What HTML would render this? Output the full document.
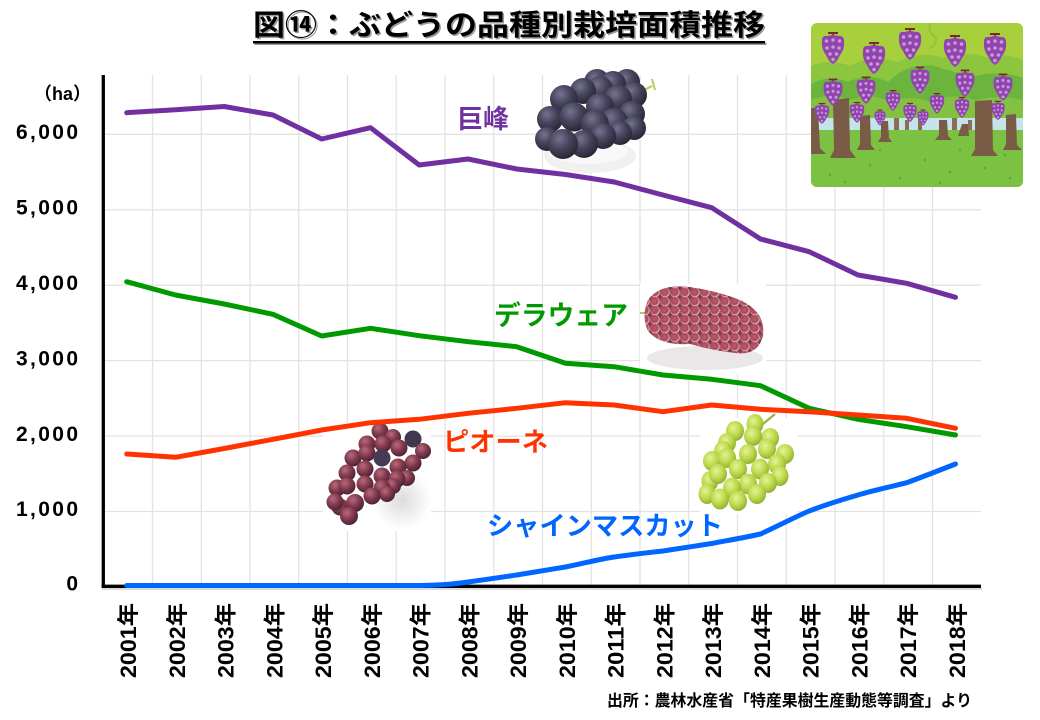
<!DOCTYPE html>
<html><head><meta charset="utf-8">
<style>
html,body{margin:0;padding:0;background:#fff;}
svg{display:block;}
text{font-family:"Liberation Sans","Noto Sans CJK JP",sans-serif;}
</style></head><body>
<svg width="1040" height="720" viewBox="0 0 1040 720" xmlns="http://www.w3.org/2000/svg">
<defs>
  <radialGradient id="gk" cx="0.38" cy="0.32" r="0.7">
    <stop offset="0" stop-color="#767290"/><stop offset="0.5" stop-color="#46445c"/><stop offset="1" stop-color="#282634"/>
  </radialGradient>
  <radialGradient id="gp" cx="0.38" cy="0.32" r="0.7">
    <stop offset="0" stop-color="#b86a7c"/><stop offset="0.55" stop-color="#80384c"/><stop offset="1" stop-color="#4a2236"/>
  </radialGradient>
  <radialGradient id="gs" cx="0.4" cy="0.35" r="0.7">
    <stop offset="0" stop-color="#e6f294"/><stop offset="0.55" stop-color="#bcd84c"/><stop offset="1" stop-color="#8cab2c"/>
  </radialGradient>
  <radialGradient id="gd" cx="0.45" cy="0.45" r="0.6">
    <stop offset="0" stop-color="#c05a6c"/><stop offset="0.6" stop-color="#a8485a"/><stop offset="0.85" stop-color="#e2b6c0"/><stop offset="1" stop-color="#d8a4b0"/>
  </radialGradient>
  <radialGradient id="gsh" cx="0.5" cy="0.5" r="0.5">
    <stop offset="0" stop-color="#dcdcde"/><stop offset="1" stop-color="#ffffff"/>
  </radialGradient>
  <pattern id="pd" x="0" y="0" width="10" height="9" patternUnits="userSpaceOnUse">
    <rect width="10" height="9" fill="#8a3a4c"/>
    <circle cx="5" cy="4.5" r="4.8" fill="url(#gd)"/>
  </pattern>
  <g id="vg">
    <rect x="-5" y="-17" width="10" height="2" fill="#7a2a2a"/>
    <rect x="-0.8" y="-16" width="1.6" height="4" fill="#7a2a2a"/>
    <path d="M-11,-9 Q-11,-14 -5,-13 Q0,-15 5,-13 Q11,-14 11,-8 Q12,0 7,6 Q4,13 0,15 Q-4,13 -7,6 Q-12,0 -11,-9Z" fill="#8f45ad"/>
    <circle cx="-6.5" cy="-8" r="1.8" fill="#c899d8"/><circle cx="0" cy="-9" r="1.8" fill="#c899d8"/><circle cx="6.5" cy="-8" r="1.8" fill="#c899d8"/>
    <circle cx="-6" cy="-1" r="1.8" fill="#c899d8"/><circle cx="0" cy="-2" r="1.8" fill="#c899d8"/><circle cx="6" cy="-1" r="1.8" fill="#c899d8"/>
    <circle cx="-3" cy="5" r="1.8" fill="#c899d8"/><circle cx="3.5" cy="5" r="1.8" fill="#c899d8"/>
    <circle cx="0" cy="10.5" r="1.8" fill="#c899d8"/>
  </g>
  <clipPath id="vc"><rect x="811" y="23" width="212" height="164" rx="6"/></clipPath>
</defs>

<!-- Title -->
<text x="254.5" y="36.5" font-size="29" font-weight="bold" fill="#9a9a9a" textLength="512" lengthAdjust="spacingAndGlyphs">図⑭：ぶどうの品種別栽培面積推移</text>
<text x="253" y="35" font-size="29" font-weight="bold" fill="#000" textLength="512" lengthAdjust="spacingAndGlyphs">図⑭：ぶどうの品種別栽培面積推移</text>
<rect x="254.5" y="42.5" width="512" height="2.5" fill="#9a9a9a"/>
<rect x="253" y="41" width="512" height="2.5" fill="#000"/>

<!-- gridlines -->
<g stroke="#e3e3e3" stroke-width="1.3">
  <line x1="152.5" y1="75" x2="152.5" y2="585"/><line x1="201.25" y1="75" x2="201.25" y2="585"/>
  <line x1="250" y1="75" x2="250" y2="585"/><line x1="298.75" y1="75" x2="298.75" y2="585"/>
  <line x1="347.5" y1="75" x2="347.5" y2="585"/><line x1="396.25" y1="75" x2="396.25" y2="585"/>
  <line x1="445" y1="75" x2="445" y2="585"/><line x1="493.75" y1="75" x2="493.75" y2="585"/>
  <line x1="542.5" y1="75" x2="542.5" y2="585"/><line x1="591.25" y1="75" x2="591.25" y2="585"/>
  <line x1="640" y1="75" x2="640" y2="585"/><line x1="688.75" y1="75" x2="688.75" y2="585"/>
  <line x1="737.5" y1="75" x2="737.5" y2="585"/><line x1="786.25" y1="75" x2="786.25" y2="585"/>
  <line x1="835" y1="75" x2="835" y2="585"/><line x1="883.75" y1="75" x2="883.75" y2="585"/>
  <line x1="932.5" y1="75" x2="932.5" y2="585"/>
  <line x1="103" y1="134.3" x2="981" y2="134.3"/><line x1="103" y1="209.8" x2="981" y2="209.8"/>
  <line x1="103" y1="285.2" x2="981" y2="285.2"/><line x1="103" y1="360.6" x2="981" y2="360.6"/>
  <line x1="103" y1="436.1" x2="981" y2="436.1"/><line x1="103" y1="511.5" x2="981" y2="511.5"/>
</g>

<!-- axes -->
<line x1="102" y1="589" x2="982" y2="589" stroke="#cfcfcf" stroke-width="1.5"/>
<line x1="103.3" y1="75" x2="103.3" y2="587.8" stroke="#000" stroke-width="3.3"/>
<line x1="101.7" y1="586.3" x2="981" y2="586.3" stroke="#000" stroke-width="3.3"/>

<!-- Y labels -->
<g font-size="21" font-weight="bold" fill="#000" text-anchor="end">
  <text x="78" y="139" textLength="62">6,000</text>
  <text x="78" y="214.5" textLength="62">5,000</text>
  <text x="78" y="290" textLength="62">4,000</text>
  <text x="78" y="365.3" textLength="62">3,000</text>
  <text x="78" y="440.8" textLength="62">2,000</text>
  <text x="78" y="516.2" textLength="62">1,000</text>
  <text x="78" y="590.5">0</text>
</g>
<text x="34" y="100" font-size="18" font-weight="bold" fill="#000">（ha）</text>

<!-- X labels -->
<g font-size="22" font-weight="bold" fill="#000" text-anchor="end">
  <text transform="translate(136.2,603) rotate(-90)" textLength="75" lengthAdjust="spacingAndGlyphs">2001年</text>
  <text transform="translate(185,603) rotate(-90)" textLength="75" lengthAdjust="spacingAndGlyphs">2002年</text>
  <text transform="translate(233.7,603) rotate(-90)" textLength="75" lengthAdjust="spacingAndGlyphs">2003年</text>
  <text transform="translate(282.5,603) rotate(-90)" textLength="75" lengthAdjust="spacingAndGlyphs">2004年</text>
  <text transform="translate(331.2,603) rotate(-90)" textLength="75" lengthAdjust="spacingAndGlyphs">2005年</text>
  <text transform="translate(380,603) rotate(-90)" textLength="75" lengthAdjust="spacingAndGlyphs">2006年</text>
  <text transform="translate(428.7,603) rotate(-90)" textLength="75" lengthAdjust="spacingAndGlyphs">2007年</text>
  <text transform="translate(477.5,603) rotate(-90)" textLength="75" lengthAdjust="spacingAndGlyphs">2008年</text>
  <text transform="translate(526.2,603) rotate(-90)" textLength="75" lengthAdjust="spacingAndGlyphs">2009年</text>
  <text transform="translate(575,603) rotate(-90)" textLength="75" lengthAdjust="spacingAndGlyphs">2010年</text>
  <text transform="translate(623.7,603) rotate(-90)" textLength="75" lengthAdjust="spacingAndGlyphs">2011年</text>
  <text transform="translate(672.5,603) rotate(-90)" textLength="75" lengthAdjust="spacingAndGlyphs">2012年</text>
  <text transform="translate(721.2,603) rotate(-90)" textLength="75" lengthAdjust="spacingAndGlyphs">2013年</text>
  <text transform="translate(770,603) rotate(-90)" textLength="75" lengthAdjust="spacingAndGlyphs">2014年</text>
  <text transform="translate(818.7,603) rotate(-90)" textLength="75" lengthAdjust="spacingAndGlyphs">2015年</text>
  <text transform="translate(867.5,603) rotate(-90)" textLength="75" lengthAdjust="spacingAndGlyphs">2016年</text>
  <text transform="translate(916.2,603) rotate(-90)" textLength="75" lengthAdjust="spacingAndGlyphs">2017年</text>
  <text transform="translate(965,603) rotate(-90)" textLength="75" lengthAdjust="spacingAndGlyphs">2018年</text>
</g>

<!-- Source -->
<text x="607" y="706" font-size="16" font-weight="bold" fill="#000" textLength="365" lengthAdjust="spacingAndGlyphs">出所：農林水産省「特産果樹生産動態等調査」より</text>

<!-- Kyoho image -->
<g>
  <ellipse cx="590" cy="156" rx="46" ry="17" fill="#f0f0f0"/>
  <ellipse cx="588" cy="152" rx="40" ry="12" fill="#f8f8f8"/>
  <path d="M638,93 L652,86" stroke="#b8cc58" stroke-width="2.2" fill="none"/>
  <path d="M652,79 L655,90" stroke="#b8cc58" stroke-width="2" fill="none"/>
  <circle cx="597" cy="82" r="13" fill="url(#gk)"/>
  <circle cx="627" cy="82" r="13" fill="url(#gk)"/>
  <circle cx="613" cy="84" r="13" fill="url(#gk)"/>
  <circle cx="600" cy="89" r="13" fill="url(#gk)"/>
  <circle cx="583" cy="91" r="13" fill="url(#gk)"/>
  <circle cx="634" cy="95" r="13" fill="url(#gk)"/>
  <circle cx="618" cy="99" r="14" fill="url(#gk)"/>
  <circle cx="564" cy="99" r="14" fill="url(#gk)"/>
  <circle cx="600" cy="107" r="14" fill="url(#gk)"/>
  <circle cx="632" cy="114" r="13" fill="url(#gk)"/>
  <circle cx="550" cy="119" r="13" fill="url(#gk)"/>
  <circle cx="574" cy="117" r="14.5" fill="url(#gk)"/>
  <circle cx="614" cy="122" r="14" fill="url(#gk)"/>
  <circle cx="595" cy="124" r="14" fill="url(#gk)"/>
  <circle cx="634" cy="128" r="12" fill="url(#gk)"/>
  <circle cx="620" cy="133" r="12" fill="url(#gk)"/>
  <circle cx="603" cy="136" r="13" fill="url(#gk)"/>
  <circle cx="547" cy="139" r="12" fill="url(#gk)"/>
  <circle cx="584" cy="144" r="14" fill="url(#gk)"/>
  <circle cx="563" cy="144" r="15" fill="url(#gk)"/>
</g>

<!-- Delaware image -->
<g>
  <rect x="640" y="284" width="126" height="90" fill="#fff"/>
  <ellipse cx="705" cy="358" rx="58" ry="12" fill="#ebe6e8"/>
  <path d="M640,313 L649,313" stroke="#b8c858" stroke-width="2"/>
  <path d="M648,300 Q660,283 690,287 Q722,292 742,301 Q766,313 763,336 Q758,356 735,353 Q710,350 690,344 Q660,346 648,331 Q641,316 648,300 Z" fill="url(#pd)"/>
</g>

<!-- Pione image -->
<g>
  <rect x="323" y="423" width="108" height="108" fill="#fff"/>
  <ellipse cx="402" cy="500" rx="30" ry="30" fill="url(#gsh)"/>
  <circle cx="380" cy="431" r="8.5" fill="url(#gp)"/>
  <circle cx="413" cy="439" r="8.5" fill="#3e3850"/>
  <circle cx="393" cy="437" r="8" fill="url(#gp)"/>
  <circle cx="423" cy="451" r="8" fill="url(#gp)"/>
  <circle cx="367" cy="444" r="8.5" fill="url(#gp)"/>
  <circle cx="383" cy="444" r="8.5" fill="url(#gp)"/>
  <circle cx="399" cy="448" r="8.5" fill="url(#gp)"/>
  <circle cx="353" cy="458" r="8.5" fill="url(#gp)"/>
  <circle cx="367" cy="453" r="8.5" fill="url(#gp)"/>
  <circle cx="413" cy="463" r="8.5" fill="url(#gp)"/>
  <circle cx="382" cy="458" r="8.5" fill="#463a55"/>
  <circle cx="398" cy="467" r="8.5" fill="url(#gp)"/>
  <circle cx="347" cy="473" r="8.5" fill="url(#gp)"/>
  <circle cx="407" cy="478" r="8" fill="url(#gp)"/>
  <circle cx="365" cy="469" r="8.5" fill="url(#gp)"/>
  <circle cx="382" cy="476" r="8.5" fill="url(#gp)"/>
  <circle cx="397" cy="479" r="8.5" fill="url(#gp)"/>
  <circle cx="337" cy="488" r="8.5" fill="url(#gp)"/>
  <circle cx="347" cy="486" r="8.5" fill="url(#gp)"/>
  <circle cx="365" cy="484" r="8.5" fill="url(#gp)"/>
  <circle cx="393" cy="486" r="8" fill="url(#gp)"/>
  <circle cx="382" cy="488" r="8.5" fill="url(#gp)"/>
  <circle cx="387" cy="494" r="8" fill="url(#gp)"/>
  <circle cx="372" cy="496" r="8.5" fill="url(#gp)"/>
  <circle cx="340" cy="507" r="8.5" fill="url(#gp)"/>
  <circle cx="335" cy="502" r="8.5" fill="url(#gp)"/>
  <circle cx="355" cy="503" r="9" fill="url(#gp)"/>
  <circle cx="349" cy="516" r="9" fill="url(#gp)"/>
</g>

<!-- Shine Muscat image -->
<g>
  <rect x="700" y="418" width="97" height="96" fill="#fff"/>
  <path d="M763,424 L775,414" stroke="#9ab040" stroke-width="2.2"/>
  <ellipse cx="755" cy="424" rx="8.5" ry="10" fill="url(#gs)"/>
  <ellipse cx="735" cy="431" rx="9" ry="10" fill="url(#gs)"/>
  <ellipse cx="770" cy="438" rx="9" ry="10" fill="url(#gs)"/>
  <ellipse cx="753" cy="436" rx="9" ry="10" fill="url(#gs)"/>
  <ellipse cx="727" cy="443" rx="9" ry="10" fill="url(#gs)"/>
  <ellipse cx="785" cy="454" rx="9" ry="10" fill="url(#gs)"/>
  <ellipse cx="723" cy="451" rx="9" ry="10" fill="url(#gs)"/>
  <ellipse cx="767" cy="449" rx="9" ry="10" fill="url(#gs)"/>
  <ellipse cx="748" cy="454" rx="9" ry="10" fill="url(#gs)"/>
  <ellipse cx="712" cy="461" rx="9" ry="10" fill="url(#gs)"/>
  <ellipse cx="727" cy="458" rx="9" ry="10" fill="url(#gs)"/>
  <ellipse cx="777" cy="464" rx="9" ry="10" fill="url(#gs)"/>
  <ellipse cx="760" cy="469" rx="9" ry="10.5" fill="url(#gs)"/>
  <ellipse cx="738" cy="469" rx="9" ry="10" fill="url(#gs)"/>
  <ellipse cx="710" cy="481" rx="8.5" ry="10" fill="url(#gs)"/>
  <ellipse cx="718" cy="474" rx="9" ry="10" fill="url(#gs)"/>
  <ellipse cx="780" cy="476" rx="8.5" ry="10" fill="url(#gs)"/>
  <ellipse cx="768" cy="483" rx="9" ry="10" fill="url(#gs)"/>
  <ellipse cx="748" cy="484" rx="9" ry="10.5" fill="url(#gs)"/>
  <ellipse cx="732" cy="488" rx="9" ry="10.5" fill="url(#gs)"/>
  <ellipse cx="757" cy="494" rx="9" ry="10" fill="url(#gs)"/>
  <ellipse cx="707" cy="494" rx="8.5" ry="10" fill="url(#gs)"/>
  <ellipse cx="738" cy="501" rx="9" ry="10" fill="url(#gs)"/>
  <ellipse cx="720" cy="499" rx="9" ry="10.5" fill="url(#gs)"/>
</g>

<!-- Vineyard illustration -->
<g clip-path="url(#vc)">
  <rect x="811" y="23" width="212" height="164" fill="#a8d03c"/>
  <path d="M811,66 Q830,58 850,66 Q872,54 898,62 Q920,50 942,58 Q966,50 988,58 Q1006,52 1023,60 V130 H811Z" fill="#8cc53e"/>
  <path d="M811,84 Q828,74 848,82 Q868,72 888,82 Q908,62 935,66 Q958,74 975,76 Q1000,70 1023,78 V130 H811Z" fill="#6bb53f"/>
  <path d="M811,100 Q830,92 850,100 Q870,92 890,102 Q910,94 930,102 Q952,92 975,100 Q1000,94 1023,100 V130 H811Z" fill="#82c240"/>
  <rect x="811" y="118" width="212" height="15" fill="#c4e4ea"/>
  <g fill="#8c6e55">
    <rect x="894" y="118" width="5" height="14"/><rect x="905" y="120" width="4" height="12"/>
    <rect x="918" y="119" width="4" height="13"/><rect x="952" y="118" width="5" height="14"/>
    <rect x="968" y="120" width="4" height="12"/><rect x="1012" y="119" width="4" height="13"/>
  </g>
  <rect x="811" y="130" width="212" height="57" fill="#7cc242"/>
  <g fill="#5fa83a">
    <circle cx="830" cy="175" r="1.3"/><circle cx="870" cy="165" r="1.3"/><circle cx="900" cy="178" r="1.3"/>
    <circle cx="925" cy="160" r="1.3"/><circle cx="950" cy="172" r="1.3"/><circle cx="985" cy="168" r="1.3"/>
    <circle cx="1010" cy="178" r="1.3"/><circle cx="880" cy="150" r="1.3"/><circle cx="960" cy="150" r="1.3"/>
    <circle cx="1005" cy="155" r="1.3"/><circle cx="845" cy="182" r="1.3"/><circle cx="940" cy="183" r="1.3"/>
  </g>
  <g fill="#7a5b45">
    <path d="M811,108 L818,108 L820,148 L826,154 L811,154Z"/>
    <path d="M833,100 L849,98 L850,150 L856,158 L830,158 L834,150Z"/>
    <path d="M860,116 L870,115 L871,145 L875,150 L857,150 L860,144Z"/>
    <path d="M881,121 L888,121 L889,138 L892,142 L878,142 L881,137Z"/>
    <path d="M939,120 L947,120 L948,136 L952,140 L935,140 L939,135Z"/>
    <path d="M962,124 L968,124 L969,136 L958,136Z"/>
    <path d="M975,101 L992,100 L993,150 L998,156 L971,156 L975,149Z"/>
    <path d="M1006,115 L1016,114 L1017,145 L1022,150 L1003,150 L1006,144Z"/>
  </g>
  <path d="M930,23 Q928,32 934,36 Q940,42 930,48" stroke="#8cc53e" stroke-width="2" fill="none"/>
  <use href="#vg" transform="translate(833,49) scale(1)"/>
  <use href="#vg" transform="translate(874,59) scale(1)"/>
  <use href="#vg" transform="translate(910,45) scale(1)"/>
  <use href="#vg" transform="translate(955,52) scale(1)"/>
  <use href="#vg" transform="translate(995,50) scale(1)"/>
  <use href="#vg" transform="translate(833,93) scale(0.85)"/>
  <use href="#vg" transform="translate(866,91) scale(0.85)"/>
  <use href="#vg" transform="translate(920,81) scale(0.85)"/>
  <use href="#vg" transform="translate(965,84) scale(0.85)"/>
  <use href="#vg" transform="translate(1003,88) scale(0.85)"/>
  <use href="#vg" transform="translate(893,101) scale(0.65)"/>
  <use href="#vg" transform="translate(937,104) scale(0.65)"/>
  <use href="#vg" transform="translate(962,108) scale(0.65)"/>
  <use href="#vg" transform="translate(822,114) scale(0.65)"/>
  <use href="#vg" transform="translate(857,113) scale(0.65)"/>
  <use href="#vg" transform="translate(910,113) scale(0.6)"/>
  <use href="#vg" transform="translate(923,118) scale(0.5)"/>
  <use href="#vg" transform="translate(880,118) scale(0.5)"/>
  <use href="#vg" transform="translate(998,111) scale(0.6)"/>
</g>

<!-- Series lines -->
<g fill="none" stroke-width="5" stroke-linejoin="round" stroke-linecap="round">
  <polyline stroke="#7030A0" points="126.7,112.7 175.5,109.7 224.2,106.5 273,115 321.7,139 370.5,127.7 419.2,165 468,159 516.7,169 565.5,174.5 614.2,182 663,195 711.7,207.7 760.5,239 809.2,251.7 858,275 906.7,283.3 955.5,297.3"/>
  <polyline stroke="#009900" points="126.7,281.7 175.5,295 224.2,304 273,314.3 321.7,336 370.5,328.3 419.2,335.7 468,341.7 516.7,346.7 565.5,363.3 614.2,366.7 663,375 711.7,379.3 760.5,385.7 809.2,408.3 858,419.3 906.7,426.7 955.5,435"/>
  <polyline stroke="#FF3300" points="126.7,454 175.5,457.3 224.2,448.5 273,439.3 321.7,430 370.5,422.7 419.2,419.3 468,413.3 516.7,408.3 565.5,402.7 614.2,405 663,411.7 711.7,405 760.5,409.3 809.2,411.7 858,415 906.7,418.3 955.5,428.3"/>
  <path stroke="#0066FF" d="M126.7,585.5 L419.2,585.5 C440,585.3 455,584 468,582 C490,579 500,577.5 516.7,575 C535,572 550,569.5 565.5,567 C585,563 600,559 614.2,557 C635,554 650,552.5 663,551 C680,548.5 695,546 711.7,543.5 C730,540 745,537.5 760.5,534 C780,525 795,517 809.2,511 C830,503 845,499 858,495 C875,490 890,487 906.7,482.7 C925,476 940,470 955.5,464"/>
</g>

<!-- Series labels -->
<g font-weight="bold">
  <text x="457" y="128" font-size="26" fill="#7030A0" textLength="52" lengthAdjust="spacingAndGlyphs">巨峰</text>
  <text x="494" y="325" font-size="27" fill="#009900" textLength="134" lengthAdjust="spacingAndGlyphs">デラウェア</text>
  <text x="443" y="451" font-size="26" fill="#FF3300" textLength="105" lengthAdjust="spacingAndGlyphs">ピオーネ</text>
  <text x="487" y="535" font-size="26" fill="#0066FF" textLength="236" lengthAdjust="spacingAndGlyphs">シャインマスカット</text>
</g>
</svg>
</body></html>
